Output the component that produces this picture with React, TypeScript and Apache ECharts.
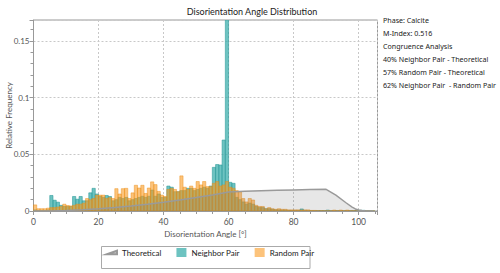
import { useEffect, useRef } from "react";
import * as echarts from "echarts";

// 1-degree bins starting at 0°
const binWidth = 1;

const neighborPair = [
  0.001, 0.0005, 0.0005, 0.0005, 0.001, 0.0137, 0.0095, 0.0078, 0.005, 0.004,
  0.004, 0.004, 0.0128, 0.0104, 0.0128, 0.009, 0.009, 0.016, 0.02, 0.015,
  0.013, 0.012, 0.0137, 0.0128, 0.009, 0.01, 0.012, 0.011, 0.012, 0.009,
  0.01, 0.011, 0.012, 0.013, 0.012, 0.013, 0.0185, 0.013, 0.015, 0.012,
  0.012, 0.022, 0.021, 0.017, 0.017, 0.018, 0.018, 0.02, 0.02, 0.018,
  0.019, 0.02, 0.021, 0.02, 0.022, 0.0385, 0.041, 0.0406, 0.0626, 0.175,
  0.0253, 0.0244, 0.012, 0.01, 0.008, 0.006, 0.007, 0.006, 0.004, 0.003,
  0.003, 0.002, 0.002, 0.0015, 0.001, 0.001, 0.0008, 0.0008, 0.0005, 0.0005,
  0.0005, 0.0005, 0.0018, 0.0005, 0.0003, 0.0003, 0.0003, 0.0003, 0.0003, 0.0003,
  0.0008, 0.0002, 0.0002, 0.0002, 0.0002, 0.0002, 0.0002, 0.0002, 0.0002, 0.0006,
  0.0006, 0.0006, 0.0003, 0.0002, 0,
];

const randomPair = [
  0.0054, 0.002, 0.002, 0.002, 0.0025, 0.003, 0.003, 0.0035, 0.004, 0.006,
  0.0048, 0.0045, 0.005, 0.006, 0.006, 0.007, 0.011, 0.01, 0.011, 0.014,
  0.014, 0.014, 0.011, 0.012, 0.011, 0.0197, 0.015, 0.0197, 0.02, 0.011,
  0.016, 0.0227, 0.0203, 0.0227, 0.0155, 0.0203, 0.0257, 0.0233, 0.0173, 0.014,
  0.0128, 0.019, 0.02, 0.019, 0.017, 0.031, 0.021, 0.019, 0.022, 0.02,
  0.026, 0.023, 0.026, 0.0215, 0.0215, 0.0244, 0.026, 0.022, 0.023, 0.026,
  0.021, 0.02, 0.018, 0.017, 0.011, 0.008, 0.011, 0.0097, 0.005, 0.004,
  0.004, 0.002, 0.003, 0.002, 0.0015, 0.002, 0.0015, 0.0015, 0.001, 0.001,
  0.001, 0.001, 0.0008, 0.001, 0.001, 0.0005, 0.0005, 0.0003, 0.0003, 0.0002,
  0.0002, 0.0002, 0.0008, 0.0002, 0.0008, 0.0002, 0.0008, 0.0002, 0.0002, 0.0002,
  0.0002, 0.0002, 0.0001, 0.0001, 0,
];

const theoAngles = [
  0, 5, 10, 15, 20, 25, 30, 35, 40, 45, 50, 55, 60, 65, 70, 75, 80, 85, 90,
  93, 96, 98, 99, 100, 101, 102, 104.5,
];
const theoValues = [
  0, 0.0001, 0.0005, 0.0011, 0.002, 0.0031, 0.0045, 0.006, 0.0078, 0.0098,
  0.0119, 0.0142, 0.0168, 0.0175, 0.0179, 0.0183, 0.0186, 0.0189, 0.0191,
  0.014, 0.0075, 0.0035, 0.0018, 0.0009, 0.0004, 0.0002, 0,
];

const infoLines = [
  "Phase: Calcite",
  "M-Index: 0.516",
  "Congruence Analysis",
  "40% Neighbor Pair - Theoretical",
  "57% Random Pair - Theoretical",
  "62% Neighbor Pair  - Random Pair",
];

const xTicks = { min: 0, max: 105.8, interval: 20 };
const yTicks = { min: 0, max: 0.1685, interval: 0.05 };

const FONT = "Lato, 'Noto Sans', sans-serif";
const INFO_FONT = "'Noto Sans', sans-serif";

function makeBarSeries(name: string, values: number[], fill: string, stroke: string, z: number) {
  return {
    name,
    type: "custom",
    z,
    clip: true,
    itemStyle: { color: fill },
    data: values.map((v, i) => [i * binWidth, v]),
    encode: { x: 0, y: 1 },
    renderItem: (params: any, api: any) => {
      const x0 = api.value(0);
      const y = api.value(1);
      const p0 = api.coord([x0, y]);
      const p1 = api.coord([x0 + binWidth, 0]);
      return {
        type: "rect",
        shape: { x: p0[0], y: p0[1], width: p1[0] - p0[0], height: p1[1] - p0[1] },
        style: { fill, stroke, lineWidth: 0.6 },
      };
    },
  };
}

export default function App() {
  const ref = useRef<HTMLDivElement>(null);
  useEffect(() => {
    if (!ref.current) return;
    const chart = echarts.init(ref.current, undefined, { renderer: "svg" });
    const axisLabelColor = "#555";
    chart.setOption({
      animation: false,
      backgroundColor: "#fff",
      title: {
        text: "Disorientation Angle Distribution",
        left: 247,
        top: 2,
        textAlign: "center",
        textStyle: { fontSize: 9, fontWeight: "normal", color: "#222", fontFamily: FONT },
      },
      grid: {
        left: 33.5,
        right: 122.5,
        top: 20,
        bottom: 62,
        show: true,
        borderColor: "#999",
        borderWidth: 1,
        backgroundColor: "transparent",
        containLabel: false,
        outerBoundsMode: "none",
      },
      legend: {
        data: [
          { name: "Theoretical", icon: "path://M0,10 L20,3 L20,10 Z" },
          { name: "Neighbor Pair", icon: "rect" },
          { name: "Random Pair", icon: "rect" },
        ],
        left: 101,
        top: 248,
        itemWidth: 10,
        itemHeight: 9,
        itemGap: 15,
        padding: [0, 5, 0, 5],
        borderWidth: 0,
        textStyle: { fontSize: 8, color: "#222", fontFamily: FONT },
      },
      xAxis: {
        type: "value",
        min: xTicks.min,
        max: xTicks.max,
        interval: xTicks.interval,
        name: "Disorientation Angle [°]",
        nameLocation: "middle",
        nameGap: 19,
        nameMoveOverlap: false,
        nameTextStyle: { fontSize: 8, color: axisLabelColor, fontFamily: FONT },
        axisLine: { show: true, lineStyle: { color: "#999" } },
        axisTick: { show: true, length: 4, inside: false, lineStyle: { color: "#999" } },
        minorTick: { show: true, splitNumber: 4, length: 3, lineStyle: { color: "#999" } },
        axisLabel: { fontSize: 8.5, color: axisLabelColor, margin: 6, fontFamily: FONT, showMaxLabel: false },
        splitLine: { show: true, lineStyle: { color: "#c8c8c8", type: [2, 2] } },
      },
      yAxis: {
        type: "value",
        min: yTicks.min,
        max: yTicks.max,
        interval: yTicks.interval,
        name: "Relative Frequency",
        nameLocation: "middle",
        nameGap: 21,
        nameMoveOverlap: false,
        nameTextStyle: { fontSize: 8, color: axisLabelColor, fontFamily: FONT },
        axisLine: { show: true, lineStyle: { color: "#999" } },
        axisTick: { show: true, length: 4, lineStyle: { color: "#999" } },
        minorTick: { show: true, splitNumber: 5, length: 3, lineStyle: { color: "#999" } },
        axisLabel: { fontSize: 8, color: axisLabelColor, margin: 4, fontFamily: FONT, showMaxLabel: false },
        splitLine: { show: true, lineStyle: { color: "#c8c8c8", type: [2, 2] } },
      },
      graphic: [
        {
          type: "rect",
          shape: { x: 101.5, y: 246.5, width: 208.5, height: 22 },
          style: { fill: "none", stroke: "#aaa", lineWidth: 1 },
          silent: true,
        },
        ...infoLines.map((t, i) => ({
          type: "text",
          left: 383,
          top: 16 + i * 13,
          style: { text: t, fontSize: 7.1, fill: "#222", fontFamily: INFO_FONT },
        })),
      ],
      series: [
        makeBarSeries("Neighbor Pair", neighborPair, "rgba(60,175,172,0.75)", "rgba(40,150,150,0.9)", 2),
        makeBarSeries("Random Pair", randomPair, "rgba(250,152,28,0.58)", "rgba(235,140,20,0.75)", 3),
        {
          name: "Theoretical",
          type: "line",
          z: 4,
          symbol: "none",
          data: theoAngles.map((a, i) => [a, theoValues[i]]),
          itemStyle: { color: "#d0d0d0", borderColor: "#999", borderWidth: 1 },
          lineStyle: { color: "#9a9a9a", width: 1.5 },
          areaStyle: { color: "rgba(120,120,120,0.25)" },
        },
      ],
    });
    return () => chart.dispose();
  }, []);
  return (
    <div
      ref={ref}
      style={{ position: "absolute", left: 0, top: 0, width: 500, height: 273 }}
    />
  );
}
